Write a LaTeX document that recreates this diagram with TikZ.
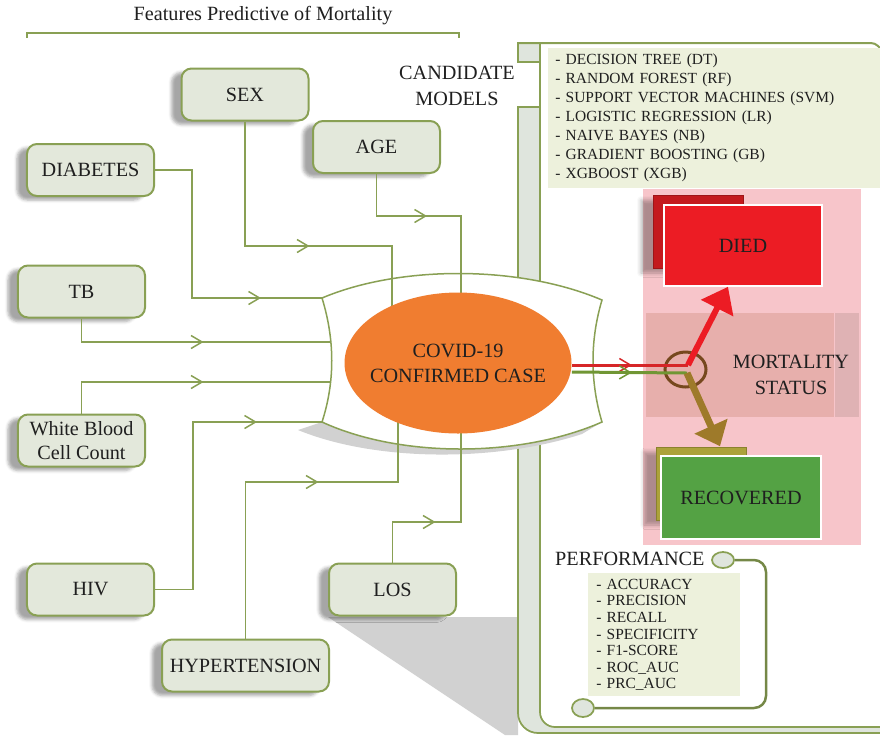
\documentclass[tikz,border=0pt]{standalone}
\usepackage{fontspec}
\setmainfont{Liberation Serif}
\usetikzlibrary{arrows.meta}
\usetikzlibrary{calc}
\usetikzlibrary{shadows.blur}
\usetikzlibrary{shapes.geometric}
\usetikzlibrary{decorations.markings}
\definecolor{featline}{RGB}{137,160,84}
\definecolor{featfill}{RGB}{227,232,219}
\definecolor{listfill}{RGB}{237,241,220}
\definecolor{barfill}{RGB}{223,229,221}
\definecolor{covidorange}{RGB}{240,125,48}
\definecolor{pinkbg}{RGB}{247,197,202}
\definecolor{bandpink}{RGB}{231,175,172}
\definecolor{strippink}{RGB}{223,178,180}
\definecolor{diedred}{RGB}{236,28,36}
\definecolor{diedback}{RGB}{196,26,30}
\definecolor{recgreen}{RGB}{84,162,68}
\definecolor{recback}{RGB}{172,162,58}
\definecolor{forkbrown}{RGB}{118,72,30}
\definecolor{recarrow}{RGB}{158,122,42}
\definecolor{redlink}{RGB}{214,38,40}
\definecolor{greenlink}{RGB}{112,150,52}

\begin{document}
\begin{tikzpicture}[x=0.2mm,y=-0.2mm,
  font=\fontsize{11.5}{14.7}\selectfont,
  every node/.style={text=black!88},
  feat/.style={draw=featline,line width=0.4mm,fill=featfill,rounded corners=2mm,
    minimum width=25.4mm,minimum height=10.4mm,inner sep=0pt,
    blur shadow={shadow xshift=-2mm,shadow yshift=-0.8mm,shadow blur radius=0.6mm,shadow opacity=35}},
  link/.style={featline,line width=0.3mm},
  midarrow/.style={postaction={decorate},decoration={markings,
    mark=at position #1 with {\arrow[line width=0.3mm]{Straight Barb[length=2.2mm,width=2.6mm]}}}},
  listbox/.style={fill=listfill,anchor=north west,align=left,inner xsep=1.4mm,
    font=\fontsize{8.8}{10.8}\selectfont},
  bar/.style={draw=featline,line width=0.35mm,fill=barfill},
  oval/.style={ellipse,draw=featline,line width=0.35mm,fill=barfill,inner sep=0pt},
  outbox/.style={draw=white,line width=0.3mm,inner sep=0pt},
  backbox/.style={inner sep=0pt,minimum width=18mm,minimum height=14.6mm,
    blur shadow={shadow xshift=-2.4mm,shadow yshift=-1mm,shadow blur radius=0.8mm,shadow opacity=30}},
  dropshade/.style={fill=black!18}]
\useasboundingbox (0,0) rectangle (880,735);

\node (title) at (263,16) {Features Predictive of Mortality};
\draw[featline,line width=0.35mm] (27,38) -- (27,33) -- (459,33) -- (459,38);

\fill[dropshade] (328,617) -- (518,617) -- (518,735) -- (505,735) -- cycle;
\draw[bar] (518,43) rectangle (540,62);
\draw[bar] (518,107) -- (518,713) arc[start angle=180,end angle=90,radius=20] -- (890,733)
  -- (890,727) -- (555,727) arc[start angle=90,end angle=180,radius=15] -- (540,107) -- cycle;
\draw[featline,line width=0.35mm] (540,43) -- (540,107);
\draw[featline,line width=0.4mm] (518,43) -- (866,43) .. controls (875,43) .. (881,49);

\fill[dropshade] (298,430) .. controls (376,462) and (496,462) .. (582,434) -- (602,422) -- (322,422) -- cycle;
\draw[link,fill=white] (322,298) .. controls (400,265) and (520,265) .. (602,300)
  .. controls (590,340) and (590,382) .. (602,422)
  .. controls (520,458) and (400,458) .. (322,422)
  .. controls (335,382) and (335,340) .. cycle;
\coordinate (cc-tl) at (322,298);
\coordinate (cc-l1) at (331,342);
\coordinate (cc-l2) at (331,382);
\coordinate (cc-bl) at (322,422);
\coordinate (covid-c) at (458,363);

\node[feat] (sex) at (245,94.5) {SEX};
\node[feat] (age) at (376.5,147) {AGE};
\node[feat] (diab) at (90.5,170) {DIABETES};
\node[feat] (tb) at (81.5,291.5) {TB};
\node[feat,align=center,font=\fontsize{11.5}{13.6}\selectfont] (wbc) at (81.5,440.5) {White Blood\\Cell Count};
\node[feat] (hiv) at (90.5,589.5) {HIV};
\node[feat,minimum width=33.4mm] (hyp) at (245.5,665.5) {HYPERTENSION};
\node[feat] (los) at (392.5,589.5) {LOS};

\draw[link,midarrow=46.8mm] (diab.east) -| (192,298) -- (cc-tl);
\draw[link,midarrow=37.8mm] (sex.south) |- (392,246) -- (392,246 |- covid-c);
\draw[link,midarrow=18.5mm] (age.south) |- (461,216) -- (461,216 |- covid-c);
\draw[link,midarrow=29.1mm] (tb.south) |- (cc-l1);
\draw[link,midarrow=30.7mm] (wbc.north) |- (cc-l2);
\draw[link,midarrow=53.9mm] (hiv.east) -| (193,422) -- (cc-bl);
\draw[link,midarrow=45.9mm] (hyp.north) |- (398,482) -- (398,482 |- covid-c);
\draw[link,midarrow=16.7mm] (los.north) |- (461,522) -- (461,522 |- covid-c);

\node[ellipse,fill=covidorange,minimum width=45.4mm,minimum height=28.2mm,inner xsep=-1.9mm,inner ysep=0pt,
  align=center,font=\fontsize{11.5}{14.2}\selectfont] (covid) at (covid-c) {COVID-19\\CONFIRMED CASE};

\node[align=center] (cand) at (457,86) {CANDIDATE\\MODELS};
\node[listbox,minimum height=27mm,text width=64.6mm] (models) at (548,48)
  {- DECISION TREE (DT)\\- RANDOM FOREST (RF)\\- SUPPORT VECTOR MACHINES (SVM)\\
   - LOGISTIC REGRESSION (LR)\\- NAIVE BAYES (NB)\\- GRADIENT BOOSTING (GB)\\- XGBOOST (XGB)};

\fill[pinkbg] (643,189) rectangle (861,545);
\fill[bandpink] (646,313) rectangle (834,417);
\fill[strippink] (835,313) rectangle (859,417);
\node[align=center] (status) at (791,375) {MORTALITY\\STATUS};

\node[backbox,fill=diedback,draw=diedback!80!black] (diedb) at (698,231.5) {};
\node[outbox,fill=diedred,minimum width=31.6mm,minimum height=16.2mm] (died) at (743,245.5) {DIED};
\node[backbox,fill=recback,draw=recback!80!black] (recb) at (701,483.5) {};
\node[outbox,fill=recgreen,minimum width=32mm,minimum height=16.6mm] (rec) at (741,497.5) {RECOVERED};

\node[ellipse,draw=forkbrown,line width=0.6mm,minimum width=8.2mm,minimum height=7mm,inner sep=0pt] (fork) at (685.5,369.5) {};
\coordinate (redbend) at (688,365);
\coordinate (grnbend) at (687,373);
\draw[redlink,line width=0.6mm,midarrow=12mm] ($(covid.east)+(0,2)$) -- (redbend);
\draw[greenlink,line width=0.6mm,midarrow=12mm] ($(covid.east)+(0,9)$) -- (grnbend);
\draw[diedred,line width=1.2mm,-{Triangle[length=4.8mm,width=7mm]}] (redbend) -- ($(died.south)+(-15,0)$);
\draw[recarrow,line width=1.4mm,-{Triangle[length=4.4mm,width=7mm]}] (grnbend) -- ($(rec.north)+(-21,-9)$);

\node[anchor=west] (perf) at (549,559) {PERFORMANCE};
\node[oval,minimum width=4.4mm,minimum height=3.2mm] (ptop) at (723,560) {};
\node[oval,minimum width=4.4mm,minimum height=3.6mm] (pbot) at (583,708) {};
\draw[featline!85!black,line width=0.5mm,rounded corners=2.4mm] (ptop.east) -| (766,708) -- (pbot.east);
\node[listbox,inner xsep=1.6mm,minimum height=24.4mm,text width=27.2mm,font=\fontsize{8.8}{9.4}\selectfont] (metrics) at (588,573)
  {- ACCURACY\\- PRECISION\\- RECALL\\- SPECIFICITY\\- F1-SCORE\\- ROC\_AUC\\- PRC\_AUC};
\end{tikzpicture}
\end{document}
